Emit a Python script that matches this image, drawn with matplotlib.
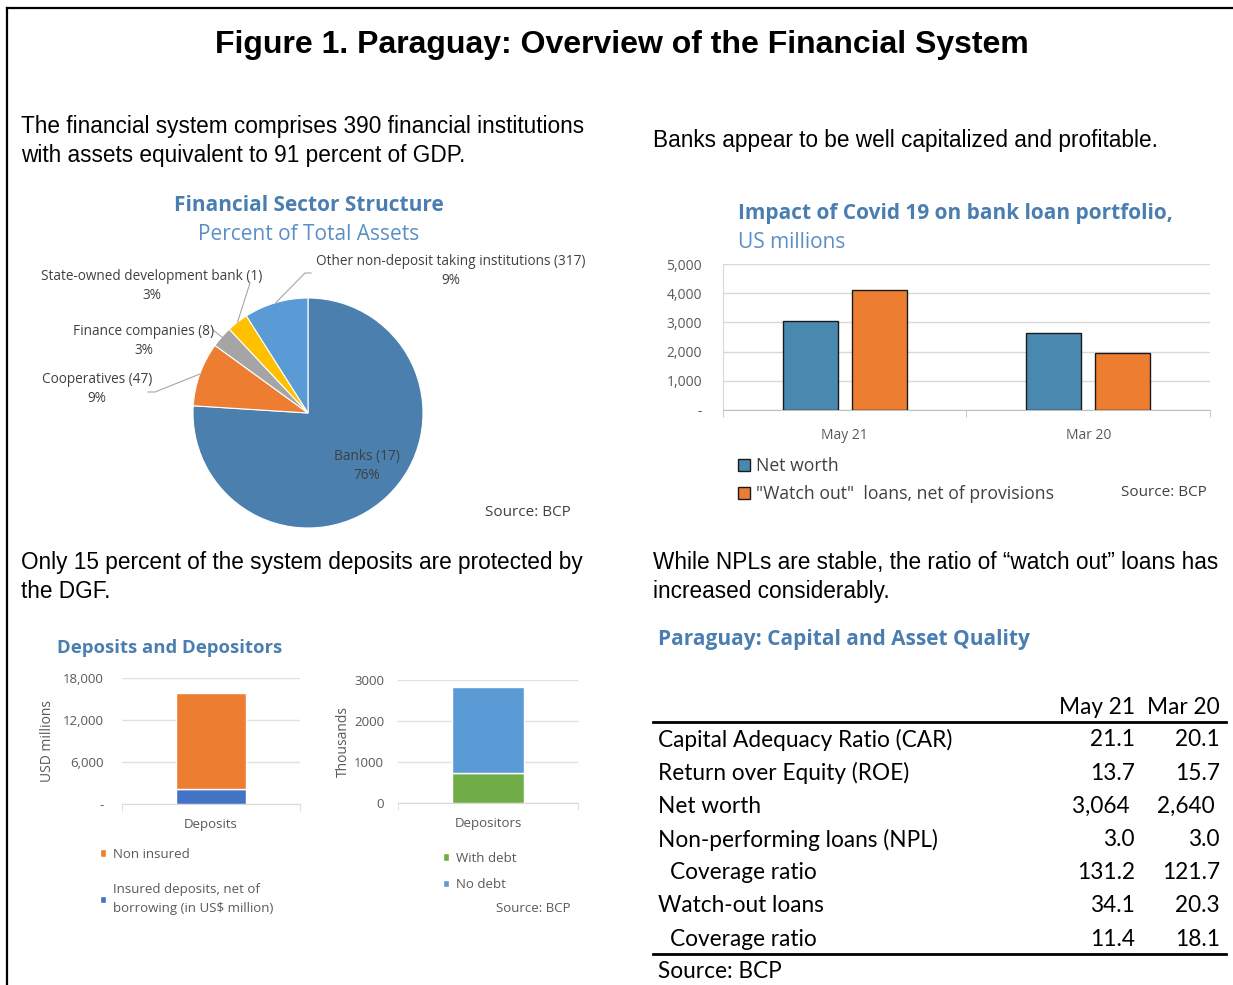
import numpy as np
import matplotlib.pyplot as plt
from matplotlib.lines import Line2D

# Data
pie_labels = ['Banks (17)', 'Cooperatives (47)', 'Finance companies (8)',
              'State-owned development bank (1)', 'Other non-deposit taking institutions (317)']
pie_shares = [76, 9, 3, 3, 9]
pie_colors = ['#4A7FAE', '#ED7D31', '#A5A5A5', '#FFC000', '#5B9BD5']

covid_cats = ['May 21', 'Mar 20']
net_worth = [3064, 2640]
watch_out = [4100, 1950]

dep_insured = [2200]
dep_non_insured = [13600]
depositors_with_debt = [720]
depositors_no_debt = [2110]

table_rows = ['Capital Adequacy Ratio (CAR)', 'Return over Equity (ROE)', 'Net worth',
              'Non-performing loans (NPL)', ' Coverage ratio', 'Watch-out loans', ' Coverage ratio']
table_may21 = ['21.1', '13.7', '3,064 ', '3.0', '131.2', '34.1', '11.4']
table_mar20 = ['20.1', '15.7', '2,640 ', '3.0', '121.7', '20.3', '18.1']

W, H = 1233, 985
fig = plt.figure(figsize=(W / 100, H / 100), dpi=100)

blue_t = '#4A7EB0'
blue_s = '#5A8FC6'
gray_t = '#595959'
CH = 'Open Sans'
AR = 'Liberation Sans'


def px_axes(x0, y0, x1, y1):
    return fig.add_axes([x0 / W, 1 - y1 / H, (x1 - x0) / W, (y1 - y0) / H])


def ftext(x, y, s, **kw):
    kw.setdefault('va', 'center')
    return fig.text(x / W, 1 - y / H, s, **kw)


# border
fig.add_artist(Line2D([7 / W, 7 / W], [0, 1 - 8 / H], color='black', lw=1.6, transform=fig.transFigure))
fig.add_artist(Line2D([7 / W, 1], [1 - 8 / H, 1 - 8 / H], color='black', lw=1.6, transform=fig.transFigure))

ftext(622, 45, 'Figure 1. Paraguay: Overview of the Financial System', ha='center',
      fontsize=23, fontweight='bold', family=AR)

# paragraphs
ftext(21, 141, 'The financial system comprises 390 financial institutions\nwith assets equivalent to 91 percent of GDP.',
      fontsize=16.3, family=AR, linespacing=1.3)
ftext(653, 141, 'Banks appear to be well capitalized and profitable.', fontsize=16.3, family=AR)
ftext(21, 577, 'Only 15 percent of the system deposits are protected by\nthe DGF.',
      fontsize=16.3, family=AR, linespacing=1.3)
ftext(653, 577, 'While NPLs are stable, the ratio of \u201cwatch out\u201d loans has\nincreased considerably.',
      fontsize=16.3, family=AR, linespacing=1.3)

# ---- pie chart ----
ftext(309, 205, 'Financial Sector Structure', ha='center', fontsize=15, fontweight='bold',
      color=blue_t, family=CH)
ftext(309, 234, 'Percent of Total Assets', ha='center', fontsize=15, color=blue_s, family=CH)

ax = px_axes(193, 298, 423, 528)
wedges, _ = ax.pie(pie_shares, colors=pie_colors, startangle=90, counterclock=False,
                   wedgeprops=dict(edgecolor='white', linewidth=0.8))
ax.set_xlim(-1, 1)
ax.set_ylim(-1, 1)


def pdata(px, py):
    return (px - 308) / 115, (413 - py) / 115


label_pos = [(367, 466), (97, 389), (144, 341), (152, 286), (451, 271)]
line_start = [None, [(148, 392), (155, 392)], [(213, 330)], [(250, 283)], [(311, 273), (305, 273)]]
for i, w in enumerate(wedges):
    tx, ty = pdata(*label_pos[i])
    ax.text(tx, ty, f'{pie_labels[i]}\n{pie_shares[i]}%', ha='center', va='center',
            fontsize=9.8, color='#404040', family=CH, linespacing=1.45, clip_on=False)
    if line_start[i] is None:
        continue
    ang = np.deg2rad((w.theta1 + w.theta2) / 2)
    pts = [pdata(*p) for p in line_start[i]] + [(np.cos(ang), np.sin(ang))]
    xs, ys = zip(*pts)
    ax.plot(xs, ys, color='#A6A6A6', lw=0.8, clip_on=False)
ftext(528, 513, 'Source: BCP', ha='center', fontsize=11, color='#404040', family=CH)

# ---- covid bar chart ----
ftext(738, 214, 'Impact of Covid 19 on bank loan portfolio,', fontsize=15, fontweight='bold',
      color=blue_t, family=CH)
ftext(738, 243, 'US millions', fontsize=15, color=blue_s, family=CH)

ax = px_axes(723, 264, 1210, 410)
x = np.arange(len(covid_cats))
ax.bar(x - 0.142, net_worth, width=0.226, color='#4A89AF', edgecolor='#1a1a1a', lw=1, label='Net worth', zorder=3)
ax.bar(x + 0.142, watch_out, width=0.226, color='#ED7D31', edgecolor='#1a1a1a', lw=1,
       label='"Watch out"  loans, net of provisions', zorder=3)
ax.set_xlim(-0.5, 1.5)
ax.set_ylim(0, 5000)
ax.set_yticks(range(0, 5001, 1000))
ax.set_yticklabels(['-'] + [f'{v:,}' for v in range(1000, 5001, 1000)])
ax.set_xticks(x)
ax.set_xticklabels(covid_cats)
ax.set_xticks([-0.5, 0.5, 1.5], minor=True)
ax.tick_params(axis='both', which='major', length=0, labelsize=10, labelcolor=gray_t)
ax.tick_params(axis='x', which='major', pad=13)
ax.tick_params(axis='x', which='minor', length=5, color='#BFBFBF')
ax.tick_params(axis='y', pad=15)
for lab in ax.get_xticklabels() + ax.get_yticklabels():
    lab.set_family(CH)
ax.grid(axis='y', color='#D9D9D9', lw=1, zorder=0)
for s in ['top', 'right']:
    ax.spines[s].set_visible(False)
ax.spines['left'].set_color('#D9D9D9')
ax.spines['bottom'].set_color('#BFBFBF')
ax.legend(loc='upper left', bbox_to_anchor=(722 / W, 1 - 441 / H), bbox_transform=fig.transFigure,
          frameon=False, handlelength=0.7, handleheight=0.7, handletextpad=0.3, labelspacing=0.6,
          prop={'family': CH, 'size': 12.7}, labelcolor='#404040')
ftext(1207, 492, 'Source: BCP', ha='right', fontsize=11, color='#404040', family=CH)

# ---- deposits ----
ftext(57, 648, 'Deposits and Depositors', fontsize=13.3, fontweight='bold', color=blue_t, family=CH)

ax = px_axes(122, 678, 300, 804)
ax.bar([0], dep_insured, width=0.39, color='#4472C4', edgecolor='white', lw=1,
       label='Insured deposits, net of\nborrowing (in US$ million)', zorder=3)
ax.bar([0], dep_non_insured, bottom=dep_insured, width=0.39, color='#ED7D31', edgecolor='white', lw=1,
       label='Non insured', zorder=3)
ax.set_xlim(-0.5, 0.5)
ax.set_ylim(0, 18000)
ax.set_yticks([0, 6000, 12000, 18000])
ax.set_yticklabels(['-', '6,000', '12,000', '18,000'])
ax.set_xticks([0])
ax.set_xticklabels(['Deposits'])
ax.set_xticks([-0.5, 0.5], minor=True)
ax.set_ylabel('USD millions', fontsize=10, color=gray_t, family=CH, labelpad=6)
ax.tick_params(axis='y', pad=13)
dep_axes = [ax]

ax = px_axes(398, 680, 578, 803)
ax.bar([0], depositors_with_debt, width=0.405, color='#70AD47', edgecolor='white', lw=1,
       label='With debt', zorder=3)
ax.bar([0], depositors_no_debt, bottom=depositors_with_debt, width=0.405, color='#5B9BD5',
       edgecolor='white', lw=1, label='No debt', zorder=3)
ax.set_xlim(-0.5, 0.5)
ax.set_ylim(0, 3000)
ax.set_yticks([0, 1000, 2000, 3000])
ax.set_xticks([0])
ax.set_xticklabels(['Depositors'])
ax.set_xticks([-0.5, 0.5], minor=True)
ax.set_ylabel('Thousands', fontsize=10, color=gray_t, family=CH, labelpad=2)
ax.tick_params(axis='y', pad=10)
dep_axes.append(ax)

for ax in dep_axes:
    ax.tick_params(axis='both', which='major', length=0, labelsize=9.5, labelcolor=gray_t)
    ax.tick_params(axis='x', which='major', pad=10)
    ax.tick_params(axis='x', which='minor', length=5, color='#D9D9D9')
    for lab in ax.get_xticklabels() + ax.get_yticklabels():
        lab.set_family(CH)
    ax.grid(axis='y', color='#E0E0E0', lw=1, zorder=0)
    for s in ['top', 'right', 'left']:
        ax.spines[s].set_visible(False)
    ax.spines['bottom'].set_color('#D9D9D9')

h, l = dep_axes[0].get_legend_handles_labels()
leg = dep_axes[0].legend(h[::-1], l[::-1], loc='upper left', bbox_to_anchor=(88 / W, 1 - 836 / H),
                         bbox_transform=fig.transFigure, frameon=False, handlelength=0.5, handleheight=0.5,
                         handletextpad=0.5, labelspacing=1.7, prop={'family': CH, 'size': 9.5},
                         labelcolor=gray_t)
for t in leg.get_texts():
    t.set_linespacing(1.6)
dep_axes[1].legend(loc='upper left', bbox_to_anchor=(431 / W, 1 - 840 / H),
                   bbox_transform=fig.transFigure, frameon=False, handlelength=0.5, handleheight=0.5,
                   handletextpad=0.5, labelspacing=1.0, prop={'family': CH, 'size': 9.5},
                   labelcolor=gray_t)
ftext(571, 908, 'Source: BCP', ha='right', fontsize=9.5, color=gray_t, family=CH)

# ---- table ----
ftext(658, 640, 'Paraguay: Capital and Asset Quality', fontsize=15, fontweight='bold',
      color=blue_t, family=CH)
TF = 'Lato'
TS = 16.3
ftext(1135, 707, 'May 21', ha='right', fontsize=TS, family=TF)
ftext(1220, 707, 'Mar 20', ha='right', fontsize=TS, family=TF)
fig.add_artist(Line2D([653 / W, 1226 / W], [1 - 722 / H] * 2, color='black', lw=2, transform=fig.transFigure))
for i, name in enumerate(table_rows):
    y = 740 + i * 33.2
    xl = 670 if name.startswith(' ') else 658
    ftext(xl, y, name.strip(), fontsize=TS, family=TF)
    ftext(1135, y, table_may21[i], ha='right', fontsize=TS, family=TF)
    ftext(1220, y, table_mar20[i], ha='right', fontsize=TS, family=TF)
fig.add_artist(Line2D([653 / W, 1226 / W], [1 - 954 / H] * 2, color='black', lw=2, transform=fig.transFigure))
ftext(658, 972, 'Source: BCP', fontsize=TS, family=TF)

fig.savefig('out.png', dpi=100)
